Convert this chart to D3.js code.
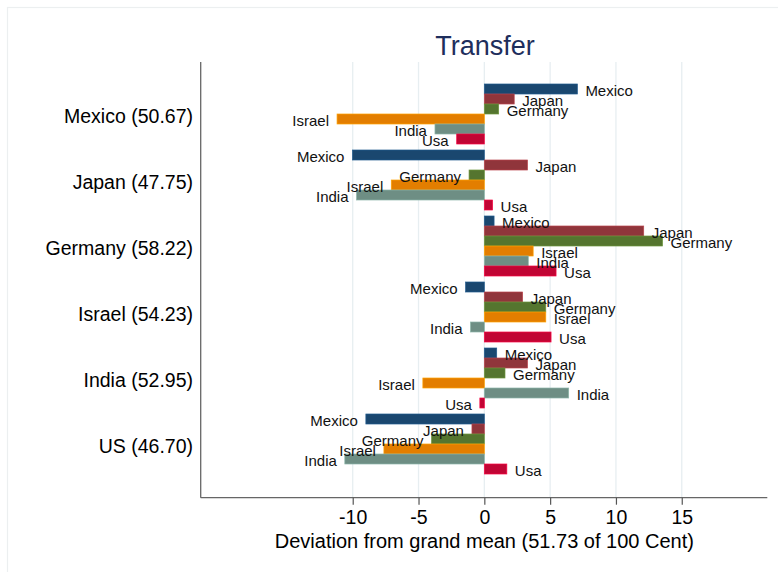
<!DOCTYPE html>
<html>
<head>
<meta charset="utf-8">
<script src="https://cdn.jsdelivr.net/npm/d3@7"></script>
<style>
  html, body { margin: 0; padding: 0; background: #ffffff; }
  svg { display: block; font-family: "Liberation Sans", Arial, Helvetica, sans-serif; }
</style>
</head>
<body>
<svg id="chart" width="778" height="572"></svg>
<script>
// ---- data ----
const titleText = "Transfer";
const xAxisTitle = "Deviation from grand mean (51.73 of 100 Cent)";
const categories = ["Mexico (50.67)", "Japan (47.75)", "Germany (58.22)", "Israel (54.23)", "India (52.95)", "US (46.70)"];
const seriesNames = ["Mexico", "Japan", "Germany", "Israel", "India", "Usa"];
const mexicoVals  = [7.07, -10.02, 0.74, -1.42, 0.94, -9.00];
const japanVals   = [2.27, 3.28, 12.11, 2.91, 3.28, -0.94];
const germanyVals = [1.09, -1.16, 13.54, 4.67, 1.57, -4.01];
const israelVals  = [-11.19, -7.07, 3.71, 4.67, -4.67, -7.63];
const indiaVals   = [-3.75, -9.71, 3.34, -1.05, 6.41, -10.60];
const usaVals     = [-2.10, 0.63, 5.45, 5.07, -0.34, 1.71];
const xTicks = [-10, -5, 0, 5, 10, 15];
const seriesColors = ["#1a476f", "#90353b", "#55752f", "#e37e00", "#6e8e84", "#c10534"];

const seriesValues = [mexicoVals, japanVals, germanyVals, israelVals, indiaVals, usaVals];

// ---- layout ----
const svg = d3.select("#chart");
const plot = { left: 200.7, right: 767.3, top: 62, bottom: 497.7 };

// outer light frame
svg.append("rect")
  .attr("x", 7.5).attr("y", 7.5).attr("width", 800).attr("height", 600)
  .attr("fill", "none").attr("stroke", "#eceff0").attr("stroke-width", 1.2);

const x = d3.scaleLinear().domain([-21.55, 21.5]).range([plot.left, plot.right]);
const y = d3.scaleBand().domain(categories).range([81, 477]).paddingInner(0.0909).paddingOuter(0.04545);
const ySub = d3.scaleBand().domain(seriesNames).range([0, y.bandwidth()]);

// gridlines
svg.append("g").selectAll("line").data(xTicks).join("line")
  .attr("x1", d => x(d)).attr("x2", d => x(d))
  .attr("y1", plot.top).attr("y2", plot.bottom)
  .attr("stroke", "#e7eef1").attr("stroke-width", 1.3);

const barLayer = svg.append("g");
const labelLayer = svg.append("g");

seriesNames.forEach((s, i) => {
  const vals = seriesValues[i];
  const data = categories.map((c, j) => ({ cat: c, v: vals[j] }));
  const col = seriesColors[i];
  barLayer.append("g").selectAll("rect").data(data).join("rect")
    .attr("x", d => x(Math.min(0, d.v)))
    .attr("width", d => Math.abs(x(d.v) - x(0)))
    .attr("y", d => y(d.cat) + ySub(s))
    .attr("height", ySub.bandwidth())
    .attr("fill", col)
    .attr("stroke", d3.color(col).brighter(0.7).formatHex())
    .attr("stroke-width", 0.7);
  labelLayer.append("g").selectAll("text").data(data).join("text")
    .attr("x", d => d.v >= 0 ? x(d.v) + 8 : x(d.v) - 8)
    .attr("y", d => y(d.cat) + ySub(s) + ySub.bandwidth() / 2 + 1.5)
    .attr("dy", "0.35em")
    .attr("text-anchor", d => d.v >= 0 ? "start" : "end")
    .attr("font-size", "15px")
    .attr("fill", "#111")
    .text(s);
});

// left axis line
svg.append("line")
  .attr("x1", plot.left).attr("x2", plot.left)
  .attr("y1", plot.top).attr("y2", plot.bottom)
  .attr("stroke", "#666").attr("stroke-width", 1.3);

// category labels
svg.append("g").selectAll("text").data(categories).join("text")
  .attr("x", 193)
  .attr("y", d => y(d) + y.bandwidth() / 2 + 2)
  .attr("dy", "0.35em")
  .attr("text-anchor", "end")
  .attr("font-size", "19.5px")
  .attr("fill", "#000")
  .text(d => d);

// bottom axis
const xAxis = d3.axisBottom(x).tickValues(xTicks).tickSize(7).tickPadding(5).tickFormat(d3.format("d"));
const ax = svg.append("g").attr("transform", `translate(0,${plot.bottom})`).call(xAxis);
ax.select(".domain").attr("d", `M${plot.left},0H${plot.right}`).attr("stroke", "#666").attr("stroke-width", 1.3);
ax.selectAll(".tick line").attr("stroke", "#555").attr("stroke-width", 1.2);
ax.selectAll(".tick text")
  .attr("font-size", "19.5px").attr("fill", "#000")
  .attr("font-family", "'Liberation Sans', Arial, sans-serif")
  .text(d => d < 0 ? "-" + Math.abs(d) : String(d));

// axis title
svg.append("text")
  .attr("x", x(0)).attr("y", 548)
  .attr("text-anchor", "middle")
  .attr("font-size", "20px").attr("fill", "#000")
  .text(xAxisTitle);

// chart title
svg.append("text")
  .attr("x", 485).attr("y", 55)
  .attr("text-anchor", "middle")
  .attr("font-size", "27px").attr("fill", "#1e2e5c")
  .text(titleText);
</script>
</body>
</html>
